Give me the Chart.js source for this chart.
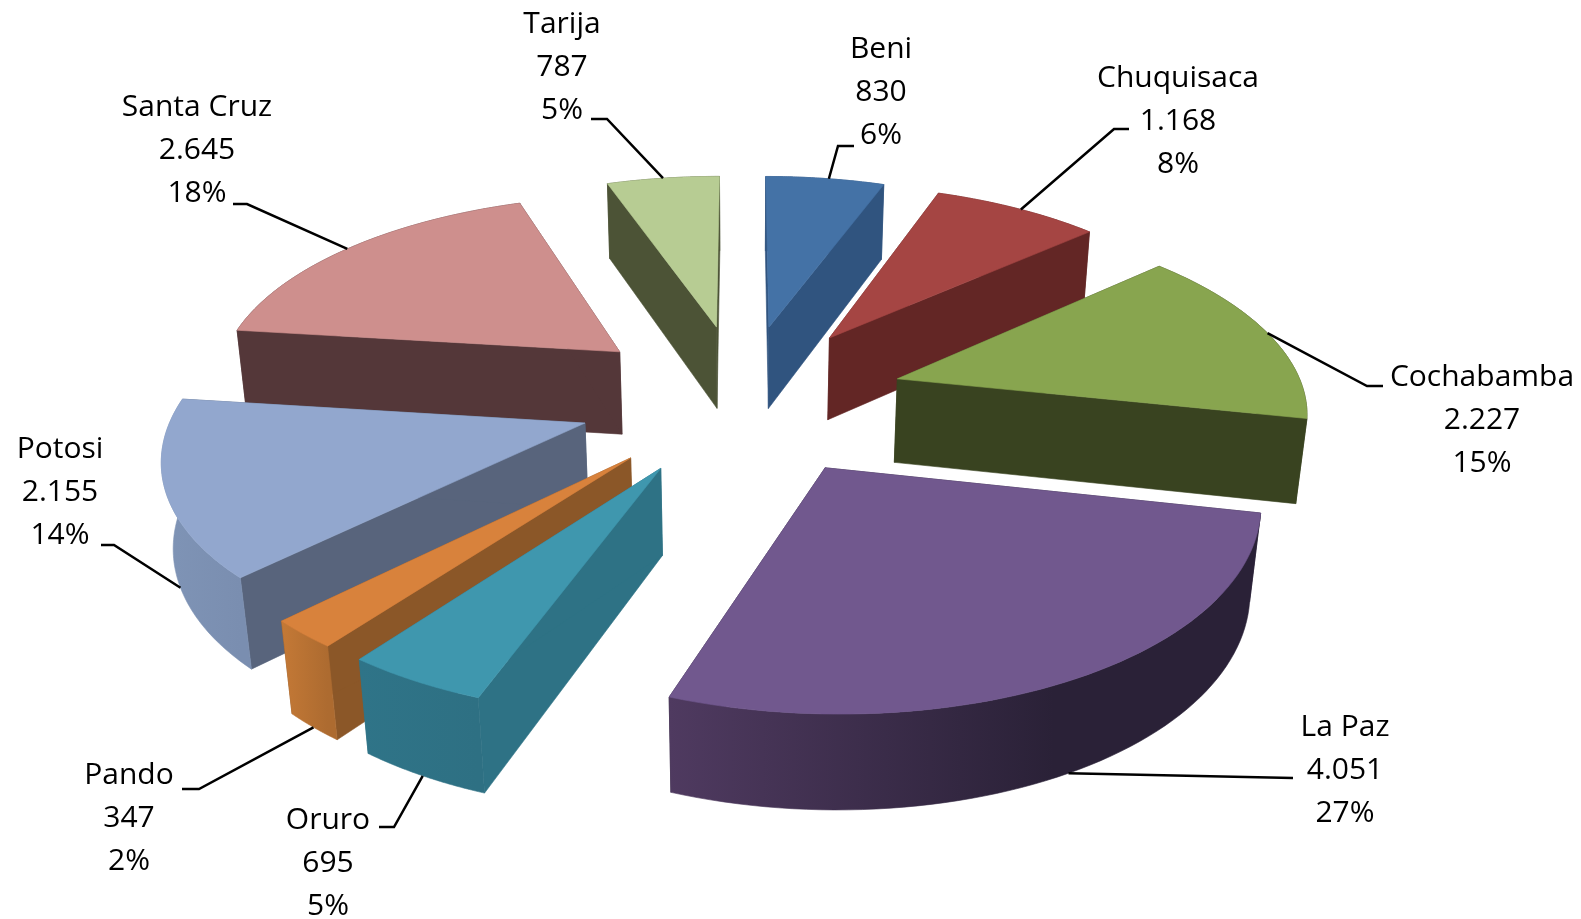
<!DOCTYPE html>
<html>
<head>
<meta charset="utf-8">
<title>Pie</title>
<script src="https://cdn.jsdelivr.net/npm/chart.js@4"></script>
<style>
    html, body { margin: 0; padding: 0; background: #fff; overflow: hidden; }
    canvas { display: block; }
</style>
</head>
<body>
<canvas id="chart" width="1581" height="919"></canvas>
<script>
const categories = ['Beni', 'Chuquisaca', 'Cochabamba', 'La Paz', 'Oruro', 'Pando', 'Potosi', 'Santa Cruz', 'Tarija'];
const values = [830, 1168, 2227, 4051, 695, 347, 2155, 2645, 787];

const topColors = ['#4472a6', '#a54543', '#88a54f', '#71588e', '#3f97ae', '#d8823c', '#92a7ce', '#ce8f8d', '#b7cc93'];
const sideColors = ['#30547f', '#632625', '#394320', '#2b2239', '#2e7285', '#8b5728', '#58647c', '#543739', '#4c5336'];
const wallFrom = ['#30547f', '#632625', '#394320', '#4f3a60', '#2f7488', '#c47936', '#7f94b6', '#543739', '#4c5336'];
const wallTo = ['#30547f', '#632625', '#394320', '#2a2137', '#2e7083', '#ad6b30', '#7a8eb0', '#543739', '#4c5336'];

// painter's order, back of the pie first
const drawOrder = [8, 0, 1, 7, 2, 6, 5, 4, 3];

// label centre and first line, then the leader's elbow and end
const labelPos = [[881, 49], [1178, 78], [1482, 377], [1345, 727], [328, 820], [129, 775], [60, 449], [197, 107], [562, 24]];
const elbows = [[838, 146], [1114, 129], [1367, 386], [1293, 778], [394, 827], [199, 789], [114, 545], [247, 204], [607, 119]];
const leaderEnds = [[854, 146], [1129, 129], [1383, 386], null, [379, 827], [182, 789], [101, 545], [233, 204], [591, 119]];
// where on the slice the leader starts: share of the arc, share of the depth
const anchors = [[0.53, 0], [0.52, 0], [0.5, 0], [0.5, 1], [0.5, 1], [0.5, 1], [0.45, 1], [0.5, 0], [0.5, 0]];

const cam = { cx: 742, cy: 398, a: 408, b: 190, d: 86, k: 0.14, kz: 0.02 };
const explode = 153;

function project(u, v, z) {
    const w = 1 - cam.k * v + cam.kz * z;
    return { x: cam.cx + cam.a * u / w, y: cam.cy + (cam.b * v + cam.d * z) / w };
}

function slicePoint(el, angle, r, z) {
    const mid = (el.startAngle + el.endAngle) / 2;
    const off = el.options.offset / el.outerRadius;
    return project(off * Math.cos(mid) + r * Math.cos(angle), off * Math.sin(mid) + r * Math.sin(angle), z);
}

function fillPoly(ctx, pts, fill) {
    ctx.beginPath();
    pts.forEach((p, i) => i ? ctx.lineTo(p.x, p.y) : ctx.moveTo(p.x, p.y));
    ctx.closePath();
    ctx.fillStyle = fill;
    ctx.strokeStyle = fill;
    ctx.lineWidth = 0.6;
    ctx.fill();
    ctx.stroke();
}

function drawSlice(ctx, el, i) {
    const steps = 60;
    const top = [], bottom = [];
    for (let s = 0; s <= steps; s++) {
        const a = el.startAngle + (el.endAngle - el.startAngle) * s / steps;
        top.push(slicePoint(el, a, 1, 0));
        bottom.push(slicePoint(el, a, 1, 1));
    }
    const apexTop = slicePoint(el, 0, 0, 0);
    const apexBottom = slicePoint(el, 0, 0, 1);

    // radial walls
    fillPoly(ctx, [apexTop, top[0], bottom[0], apexBottom], sideColors[i]);
    fillPoly(ctx, [apexTop, top[steps], bottom[steps], apexBottom], sideColors[i]);

    // outer wall
    const xs = top.map(p => p.x);
    const grad = ctx.createLinearGradient(Math.max(...xs), 0, Math.min(...xs), 0);
    grad.addColorStop(0, wallTo[i]);
    grad.addColorStop(i === 3 ? 0.35 : 0, wallTo[i]);
    grad.addColorStop(1, wallFrom[i]);
    fillPoly(ctx, top.concat(bottom.slice().reverse()), grad);

    // top face
    fillPoly(ctx, [apexTop].concat(top), topColors[i]);
}

const pie3d = {
    id: 'pie3d',
    beforeDatasetsDraw(chart) {
        const arcs = chart.getDatasetMeta(0).data;
        drawOrder.forEach(i => drawSlice(chart.ctx, arcs[i], i));
        return false;
    },
    afterDraw(chart) {
        const ctx = chart.ctx;
        const arcs = chart.getDatasetMeta(0).data;
        const total = values.reduce((a, b) => a + b, 0);

        categories.forEach((name, i) => {
            const el = arcs[i];
            const a = el.startAngle + (el.endAngle - el.startAngle) * anchors[i][0];
            const from = slicePoint(el, a, 1, anchors[i][1]);
            ctx.beginPath();
            ctx.moveTo(from.x, from.y);
            ctx.lineTo(elbows[i][0], elbows[i][1]);
            if (leaderEnds[i]) ctx.lineTo(leaderEnds[i][0], leaderEnds[i][1]);
            ctx.strokeStyle = '#000';
            ctx.lineWidth = 2.5;
            ctx.stroke();

            const lines = [name, values[i].toLocaleString('de-DE'), Math.round(values[i] / total * 100) + '%'];
            ctx.fillStyle = '#000';
            ctx.font = '30px "Open Sans"';
            ctx.textAlign = 'center';
            ctx.textBaseline = 'middle';
            lines.forEach((t, n) => ctx.fillText(t, labelPos[i][0], labelPos[i][1] + n * 43));
        });
    }
};

new Chart(document.getElementById('chart').getContext('2d'), {
    type: 'pie',
    data: {
        labels: categories,
        datasets: [{
            data: values,
            backgroundColor: topColors,
            borderWidth: 0,
            offset: explode,
        }]
    },
    options: {
        responsive: false,
        animation: false,
        plugins: {
            legend: { display: false },
            tooltip: { enabled: false },
        }
    },
    plugins: [pie3d]
});
</script>
</body>
</html>
